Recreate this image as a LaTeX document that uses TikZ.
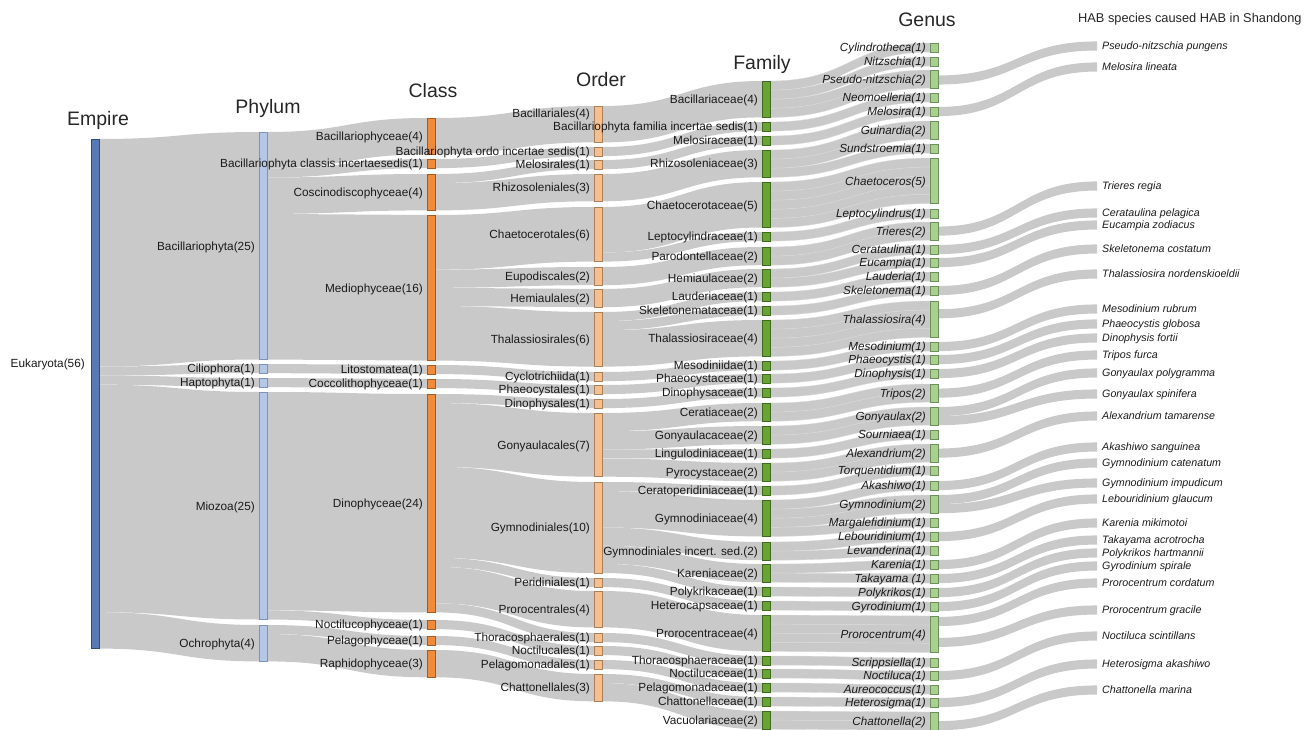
\documentclass[tikz,border=0pt]{standalone}
\usepackage{fontspec}
\setmainfont{Liberation Sans}
\usetikzlibrary{calc}
\pgfdeclarelayer{bg}
\pgfsetlayers{bg,main}
\definecolor{c0}{HTML}{5879B4}
\definecolor{c0d}{HTML}{2F4C80}
\definecolor{c1}{HTML}{B4C7E7}
\definecolor{c1d}{HTML}{7F93B8}
\definecolor{c2}{HTML}{EF8B3B}
\definecolor{c2d}{HTML}{A55A1E}
\definecolor{c3}{HTML}{F6BF8D}
\definecolor{c3d}{HTML}{A9805C}
\definecolor{c4}{HTML}{68A334}
\definecolor{c4d}{HTML}{3D6A1C}
\definecolor{c5}{HTML}{A9D18E}
\definecolor{c5d}{HTML}{6E8E5E}
\definecolor{flowc}{HTML}{C9C9C9}
\definecolor{flowsep}{HTML}{D9D9D9}
\definecolor{txt}{HTML}{1A1A1A}
\definecolor{hdrc}{HTML}{262626}
\def\uu{9.1pt}
\tikzset{
 barbase/.style={rectangle, anchor=north west, minimum width=8pt, inner sep=0pt, outer sep=0pt, line width=0.8pt},
 b0/.style={barbase, fill=c0, draw=c0d},
 b1/.style={barbase, fill=c1, draw=c1d},
 b2/.style={barbase, fill=c2, draw=c2d},
 b3/.style={barbase, fill=c3, draw=c3d},
 b4/.style={barbase, fill=c4, draw=c4d},
 b5/.style={barbase, fill=c5, draw=c5d},
 lbl/.style={anchor=base east, inner sep=0pt, text=txt, font=\fontsize{11.8}{13}\selectfont},
 lbli/.style={anchor=base east, inner sep=0pt, text=txt, font=\fontsize{11.7}{13}\selectfont\itshape},
 splbl/.style={anchor=base west, inner sep=0pt, text=txt, font=\fontsize{10.7}{12}\selectfont\itshape},
 hdr/.style={anchor=base, inner sep=0pt, text=hdrc, font=\fontsize{19.5}{22}\selectfont},
 flowfill/.style={fill=flowc},
 flowunit/.style={fill=flowc, draw=flowsep, line width=0.35pt},
}
% bar node + label: name, barstyle, labelstyle, x, top, value, text
\newcommand\nd[7]{%
  \node[#2, minimum height={#6*\uu}] (#1) at (#4,-#5) {};
  \node[#3] (#1-l) at ([xshift=-4pt,yshift=-4.3pt]#1.west) {#7};}
% flow: [style] src, src offset, tgt, tgt offset, value
\newcommand\fl[6][flowfill]{%
  \path[#1] let \p1=(#2.north east), \p2=(#4.north west),
    \n1={\y1-(#3)*\uu}, \n2={\y2-(#5)*\uu}, \n3={(#6)*\uu}, \n4={0.5*\x1+0.5*\x2} in
    (\x1,\n1) .. controls (\n4,\n1) and (\n4,\n2) .. (\x2,\n2) -- (\x2,\n2-\n3)
    .. controls (\n4,\n2-\n3) and (\n4,\n1-\n3) .. (\x1,\n1-\n3) -- cycle;}
\newcommand\flu[4]{\foreach \k in {1,...,#4}{\fl[flowunit]{#1}{#2+\k-1}{#3}{\k-1}{1}}}
% species end coordinate + label
\newcommand\spn[3]{%
  \coordinate (#1) at (1097,{-(#2-4.55)});
  \node[splbl] (#1-l) at (1102,{-(#2+3.8)}) {#3};}
% species band: genus, offset, species coordinate
\newcommand\spf[3]{%
  \path[flowfill] let \p1=(#1.north east), \p2=(#3),
    \n1={\y1-(#2)*\uu}, \n3={\uu}, \n4={0.5*\x1+0.5*\x2} in
    (\x1,\n1) .. controls (\n4,\n1) and (\n4,\y2) .. (\x2,\y2) -- (\x2,\y2-\n3)
    .. controls (\n4,\y2-\n3) and (\n4,\n1-\n3) .. (\x1,\n1-\n3) -- cycle;}

\begin{document}
\begin{tikzpicture}[x=1pt,y=1pt]
\useasboundingbox (0,0) rectangle (1312,-730);

% headers
\node[hdr] (hE) at (98,-126) {Empire};
\node[hdr] (hP) at (268,-114) {Phylum};
\node[hdr] (hC) at (433,-98) {Class};
\node[hdr] (hO) at (601,-87) {Order};
\node[hdr] (hF) at (762,-70) {Family};
\node[hdr] (hG) at (927,-27) {Genus};
\node[anchor=base west, inner sep=0pt, text=hdrc, font=\fontsize{12.8}{15}\selectfont] (hS) at (1078,-22.6) {HAB species caused HAB in Shandong};

% Empire
\node[b0, minimum height={56*\uu}] (E) at (91,-139) {};
\node[lbl] (E-l) at (85,-367.3) {Eukaryota(56)};

% Phylum
\nd{P1}{b1}{lbl}{259}{132}{25}{Bacillariophyta(25)}
\nd{P2}{b1}{lbl}{259}{364}{1}{Ciliophora(1)}
\nd{P3}{b1}{lbl}{259}{378}{1}{Haptophyta(1)}
\nd{P4}{b1}{lbl}{259}{392}{25}{Miozoa(25)}
\nd{P5}{b1}{lbl}{259}{625}{4}{Ochrophyta(4)}

% Class
\nd{C1}{b2}{lbl}{427}{118}{4}{Bacillariophyceae(4)}
\nd{C2}{b2}{lbl}{427}{159}{1}{Bacillariophyta classis incertaesedis(1)}
\nd{C3}{b2}{lbl}{427}{174}{4}{Coscinodiscophyceae(4)}
\nd{C4}{b2}{lbl}{427}{215}{16}{Mediophyceae(16)}
\nd{C5}{b2}{lbl}{427}{365}{1}{Litostomatea(1)}
\nd{C6}{b2}{lbl}{427}{379}{1}{Coccolithophyceae(1)}
\nd{C7}{b2}{lbl}{427}{394}{24}{Dinophyceae(24)}
\nd{C8}{b2}{lbl}{427}{620}{1}{Noctilucophyceae(1)}
\nd{C9}{b2}{lbl}{427}{636}{1}{Pelagophyceae(1)}
\nd{C10}{b2}{lbl}{427}{650}{3}{Raphidophyceae(3)}

% Order
\node[b3, minimum height={4*\uu}] (O1) at (594,-106) {};
\node[lbl] (O1-l) at (590,-117.3) {Bacillariales(4)};
\nd{O2}{b3}{lbl}{594}{147}{1}{Bacillariophyta ordo incertae sedis(1)}
\nd{O3}{b3}{lbl}{594}{160}{1}{Melosirales(1)}
\nd{O4}{b3}{lbl}{594}{174}{3}{Rhizosoleniales(3)}
\nd{O5}{b3}{lbl}{594}{207}{6}{Chaetocerotales(6)}
\nd{O6}{b3}{lbl}{594}{267}{2}{Eupodiscales(2)}
\nd{O7}{b3}{lbl}{594}{289}{2}{Hemiaulales(2)}
\nd{O8}{b3}{lbl}{594}{312}{6}{Thalassiosirales(6)}
\nd{O9}{b3}{lbl}{594}{372}{1}{Cyclotrichiida(1)}
\nd{O10}{b3}{lbl}{594}{385}{1}{Phaeocystales(1)}
\nd{O11}{b3}{lbl}{594}{399}{1}{Dinophysales(1)}
\nd{O12}{b3}{lbl}{594}{413}{7}{Gonyaulacales(7)}
\nd{O13}{b3}{lbl}{594}{482}{10}{Gymnodiniales(10)}
\nd{O14}{b3}{lbl}{594}{578}{1}{Peridiniales(1)}
\nd{O15}{b3}{lbl}{594}{591}{4}{Prorocentrales(4)}
\nd{O16}{b3}{lbl}{594}{633}{1}{Thoracosphaerales(1)}
\nd{O17}{b3}{lbl}{594}{646}{1}{Noctilucales(1)}
\nd{O18}{b3}{lbl}{594}{660}{1}{Pelagomonadales(1)}
\nd{O19}{b3}{lbl}{594}{674}{3}{Chattonellales(3)}

% Family
\nd{F1}{b4}{lbl}{762}{81}{4}{Bacillariaceae(4)}
\nd{F2}{b4}{lbl}{762}{122}{1}{Bacillariophyta familia incertae sedis(1)}
\nd{F3}{b4}{lbl}{762}{136}{1}{Melosiraceae(1)}
\nd{F4}{b4}{lbl}{762}{150}{3}{Rhizosoleniaceae(3)}
\nd{F5}{b4}{lbl}{762}{182}{5}{Chaetocerotaceae(5)}
\nd{F6}{b4}{lbl}{762}{232}{1}{Leptocylindraceae(1)}
\nd{F7}{b4}{lbl}{762}{247}{2}{Parodontellaceae(2)}
\nd{F8}{b4}{lbl}{762}{269}{2}{Hemiaulaceae(2)}
\nd{F9}{b4}{lbl}{762}{292}{1}{Lauderiaceae(1)}
\nd{F10}{b4}{lbl}{762}{306}{1}{Skeletonemataceae(1)}
\nd{F11}{b4}{lbl}{762}{320}{4}{Thalassiosiraceae(4)}
\nd{F12}{b4}{lbl}{762}{361}{1}{Mesodiniidae(1)}
\nd{F13}{b4}{lbl}{762}{374}{1}{Phaeocystaceae(1)}
\nd{F14}{b4}{lbl}{762}{388}{1}{Dinophysaceae(1)}
\nd{F15}{b4}{lbl}{762}{403}{2}{Ceratiaceae(2)}
\nd{F16}{b4}{lbl}{762}{426}{2}{Gonyaulacaceae(2)}
\nd{F17}{b4}{lbl}{762}{449}{1}{Lingulodiniaceae(1)}
\nd{F18}{b4}{lbl}{762}{463}{2}{Pyrocystaceae(2)}
\nd{F19}{b4}{lbl}{762}{486}{1}{Ceratoperidiniaceae(1)}
\nd{F20}{b4}{lbl}{762}{500}{4}{Gymnodiniaceae(4)}
\nd{F21}{b4}{lbl}{762}{542}{2}{Gymnodiniales incert. sed.(2)}
\nd{F22}{b4}{lbl}{762}{564}{2}{Kareniaceae(2)}
\nd{F23}{b4}{lbl}{762}{587}{1}{Polykrikaceae(1)}
\nd{F24}{b4}{lbl}{762}{601}{1}{Heterocapsaceae(1)}
\nd{F25}{b4}{lbl}{762}{615}{4}{Prorocentraceae(4)}
\nd{F26}{b4}{lbl}{762}{656}{1}{Thoracosphaeraceae(1)}
\nd{F27}{b4}{lbl}{762}{669}{1}{Noctilucaceae(1)}
\nd{F28}{b4}{lbl}{762}{683}{1}{Pelagomonadaceae(1)}
\nd{F29}{b4}{lbl}{762}{697}{1}{Chattonellaceae(1)}
\nd{F30}{b4}{lbl}{762}{711}{2}{Vacuolariaceae(2)}

% Genus
\nd{G1}{b5}{lbli}{930}{43}{1}{Cylindrotheca(1)}
\nd{G2}{b5}{lbli}{930}{57}{1}{Nitzschia(1)}
\nd{G3}{b5}{lbli}{930}{70}{2}{Pseudo-nitzschia(2)}
\nd{G4}{b5}{lbli}{930}{93}{1}{Neomoelleria(1)}
\nd{G5}{b5}{lbli}{930}{107}{1}{Melosira(1)}
\nd{G6}{b5}{lbli}{930}{121}{2}{Guinardia(2)}
\nd{G7}{b5}{lbli}{930}{144}{1}{Sundstroemia(1)}
\nd{G8}{b5}{lbli}{930}{158}{5}{Chaetoceros(5)}
\nd{G9}{b5}{lbli}{930}{209}{1}{Leptocylindrus(1)}
\nd{G10}{b5}{lbli}{930}{222}{2}{Trieres(2)}
\nd{G11}{b5}{lbli}{930}{245}{1}{Cerataulina(1)}
\nd{G12}{b5}{lbli}{930}{258}{1}{Eucampia(1)}
\nd{G13}{b5}{lbli}{930}{272}{1}{Lauderia(1)}
\nd{G14}{b5}{lbli}{930}{286}{1}{Skeletonema(1)}
\nd{G15}{b5}{lbli}{930}{301}{4}{Thalassiosira(4)}
\nd{G16}{b5}{lbli}{930}{342}{1}{Mesodinium(1)}
\nd{G17}{b5}{lbli}{930}{355}{1}{Phaeocystis(1)}
\nd{G18}{b5}{lbli}{930}{369}{1}{Dinophysis(1)}
\nd{G19}{b5}{lbli}{930}{384}{2}{Tripos(2)}
\nd{G20}{b5}{lbli}{930}{407}{2}{Gonyaulax(2)}
\nd{G21}{b5}{lbli}{930}{430}{1}{Sourniaea(1)}
\nd{G22}{b5}{lbli}{930}{444}{2}{Alexandrium(2)}
\nd{G23}{b5}{lbli}{930}{466}{1}{Torquentidium(1)}
\nd{G24}{b5}{lbli}{930}{481}{1}{Akashiwo(1)}
\nd{G25}{b5}{lbli}{930}{495}{2}{Gymnodinium(2)}
\nd{G26}{b5}{lbli}{930}{518}{1}{Margalefidinium(1)}
\nd{G27}{b5}{lbli}{930}{532}{1}{Lebouridinium(1)}
\nd{G28}{b5}{lbli}{930}{546}{1}{Levanderina(1)}
\nd{G29}{b5}{lbli}{930}{560}{1}{Karenia(1)}
\nd{G30}{b5}{lbli}{930}{574}{1}{Takayama (1)}
\nd{G31}{b5}{lbli}{930}{588}{1}{Polykrikos(1)}
\nd{G32}{b5}{lbli}{930}{602}{1}{Gyrodinium(1)}
\nd{G33}{b5}{lbli}{930}{616}{4}{Prorocentrum(4)}
\nd{G34}{b5}{lbli}{930}{658}{1}{Scrippsiella(1)}
\nd{G35}{b5}{lbli}{930}{671}{1}{Noctiluca(1)}
\nd{G36}{b5}{lbli}{930}{685}{1}{Aureococcus(1)}
\nd{G37}{b5}{lbli}{930}{698}{1}{Heterosigma(1)}
\nd{G38}{b5}{lbli}{930}{712}{2}{Chattonella(2)}

% Species
\spn{s1}{46}{Pseudo-nitzschia pungens}
\spn{s2}{67}{Melosira lineata}
\spn{s3}{186}{Trieres regia}
\spn{s4}{213}{Cerataulina pelagica}
\spn{s5}{225}{Eucampia zodiacus}
\spn{s6}{249}{Skeletonema costatum}
\spn{s7}{274}{Thalassiosira nordenskioeldii}
\spn{s8}{309}{Mesodinium rubrum}
\spn{s9}{324}{Phaeocystis globosa}
\spn{s10}{338}{Dinophysis fortii}
\spn{s11}{355}{Tripos furca}
\spn{s12}{373}{Gonyaulax polygramma}
\spn{s13}{394}{Gonyaulax spinifera}
\spn{s14}{416}{Alexandrium tamarense}
\spn{s15}{447}{Akashiwo sanguinea}
\spn{s16}{463}{Gymnodinium catenatum}
\spn{s17}{483}{Gymnodinium impudicum}
\spn{s18}{499}{Lebouridinium glaucum}
\spn{s19}{523}{Karenia mikimotoi}
\spn{s20}{540}{Takayama acrotrocha}
\spn{s21}{553}{Polykrikos hartmannii}
\spn{s22}{566}{Gyrodinium spirale}
\spn{s23}{583}{Prorocentrum cordatum}
\spn{s24}{610}{Prorocentrum gracile}
\spn{s25}{636}{Noctiluca scintillans}
\spn{s26}{664}{Heterosigma akashiwo}
\spn{s27}{690}{Chattonella marina}

\begin{pgfonlayer}{bg}
% Empire -> Phylum
\fl{E}{0}{P1}{0}{25} \fl{E}{25}{P2}{0}{1} \fl{E}{26}{P3}{0}{1}
\fl{E}{27}{P4}{0}{25} \fl{E}{52}{P5}{0}{4}
% Phylum -> Class
\fl{P1}{0}{C1}{0}{4} \fl{P1}{4}{C2}{0}{1} \fl{P1}{5}{C3}{0}{4} \fl{P1}{9}{C4}{0}{16}
\fl{P2}{0}{C5}{0}{1} \fl{P3}{0}{C6}{0}{1}
\fl{P4}{0}{C7}{0}{24} \fl{P4}{24}{C8}{0}{1}
\fl{P5}{0}{C9}{0}{1} \fl{P5}{1}{C10}{0}{3}
% Class -> Order
\fl{C1}{0}{O1}{0}{4} \fl{C2}{0}{O2}{0}{1} \fl{C3}{0}{O3}{0}{1} \fl{C3}{1}{O4}{0}{3}
\fl{C4}{0}{O5}{0}{6} \fl{C4}{6}{O6}{0}{2} \fl{C4}{8}{O7}{0}{2} \fl{C4}{10}{O8}{0}{6}
\fl{C5}{0}{O9}{0}{1} \fl{C6}{0}{O10}{0}{1}
\fl{C7}{0}{O11}{0}{1} \fl{C7}{1}{O12}{0}{7} \fl{C7}{8}{O13}{0}{10}
\fl{C7}{18}{O14}{0}{1} \fl{C7}{19}{O15}{0}{4} \fl{C7}{23}{O16}{0}{1}
\fl{C8}{0}{O17}{0}{1} \fl{C9}{0}{O18}{0}{1} \fl{C10}{0}{O19}{0}{3}
% Order -> Family
\fl{O1}{0}{F1}{0}{4} \fl{O2}{0}{F2}{0}{1} \fl{O3}{0}{F3}{0}{1} \fl{O4}{0}{F4}{0}{3}
\fl{O5}{0}{F5}{0}{5} \fl{O5}{5}{F6}{0}{1} \fl{O6}{0}{F7}{0}{2} \fl{O7}{0}{F8}{0}{2}
\fl{O8}{0}{F9}{0}{1} \fl{O8}{1}{F10}{0}{1} \fl{O8}{2}{F11}{0}{4}
\fl{O9}{0}{F12}{0}{1} \fl{O10}{0}{F13}{0}{1} \fl{O11}{0}{F14}{0}{1}
\fl{O12}{0}{F15}{0}{2} \fl{O12}{2}{F16}{0}{2} \fl{O12}{4}{F17}{0}{1} \fl{O12}{5}{F18}{0}{2}
\fl{O13}{0}{F19}{0}{1} \fl{O13}{1}{F20}{0}{4} \fl{O13}{5}{F21}{0}{2} \fl{O13}{7}{F22}{0}{2} \fl{O13}{9}{F23}{0}{1}
\fl{O14}{0}{F24}{0}{1} \fl{O15}{0}{F25}{0}{4} \fl{O16}{0}{F26}{0}{1} \fl{O17}{0}{F27}{0}{1} \fl{O18}{0}{F28}{0}{1}
\fl{O19}{0}{F29}{0}{1} \fl{O19}{1}{F30}{0}{2}
% Family -> Genus
\flu{F1}{0}{G1}{1} \flu{F1}{1}{G2}{1} \flu{F1}{2}{G3}{2} \flu{F2}{0}{G4}{1} \flu{F3}{0}{G5}{1}
\flu{F4}{0}{G6}{2} \flu{F4}{2}{G7}{1} \flu{F5}{0}{G8}{5} \flu{F6}{0}{G9}{1} \flu{F7}{0}{G10}{2}
\flu{F8}{0}{G11}{1} \flu{F8}{1}{G12}{1} \flu{F9}{0}{G13}{1} \flu{F10}{0}{G14}{1} \flu{F11}{0}{G15}{4}
\flu{F12}{0}{G16}{1} \flu{F13}{0}{G17}{1} \flu{F14}{0}{G18}{1} \flu{F15}{0}{G19}{2} \flu{F16}{0}{G20}{2}
\flu{F17}{0}{G21}{1} \flu{F18}{0}{G22}{2} \flu{F19}{0}{G23}{1}
\flu{F20}{0}{G24}{1} \flu{F20}{1}{G25}{2} \flu{F20}{3}{G26}{1}
\flu{F21}{0}{G27}{1} \flu{F21}{1}{G28}{1} \flu{F22}{0}{G29}{1} \flu{F22}{1}{G30}{1}
\flu{F23}{0}{G31}{1} \flu{F24}{0}{G32}{1} \flu{F25}{0}{G33}{4} \flu{F26}{0}{G34}{1}
\flu{F27}{0}{G35}{1} \flu{F28}{0}{G36}{1} \flu{F29}{0}{G37}{1} \flu{F30}{0}{G38}{2}
% Genus -> Species
\spf{G3}{0.6}{s1} \spf{G5}{0}{s2} \spf{G10}{0.5}{s3} \spf{G11}{0}{s4} \spf{G12}{0}{s5}
\spf{G14}{0}{s6} \spf{G15}{0.9}{s7} \spf{G16}{0}{s8} \spf{G17}{0}{s9} \spf{G18}{0}{s10}
\spf{G19}{0.5}{s11} \spf{G20}{0}{s12} \spf{G20}{1}{s13} \spf{G22}{0.5}{s14} \spf{G24}{0}{s15}
\spf{G25}{0}{s16} \spf{G25}{1}{s17} \spf{G27}{0}{s18} \spf{G29}{0}{s19} \spf{G30}{0}{s20}
\spf{G31}{0}{s21} \spf{G32}{0}{s22} \spf{G33}{0.1}{s23} \spf{G33}{2.4}{s24} \spf{G35}{0}{s25}
\spf{G37}{0}{s26} \spf{G38}{1}{s27}
\end{pgfonlayer}
\end{tikzpicture}
\end{document}
